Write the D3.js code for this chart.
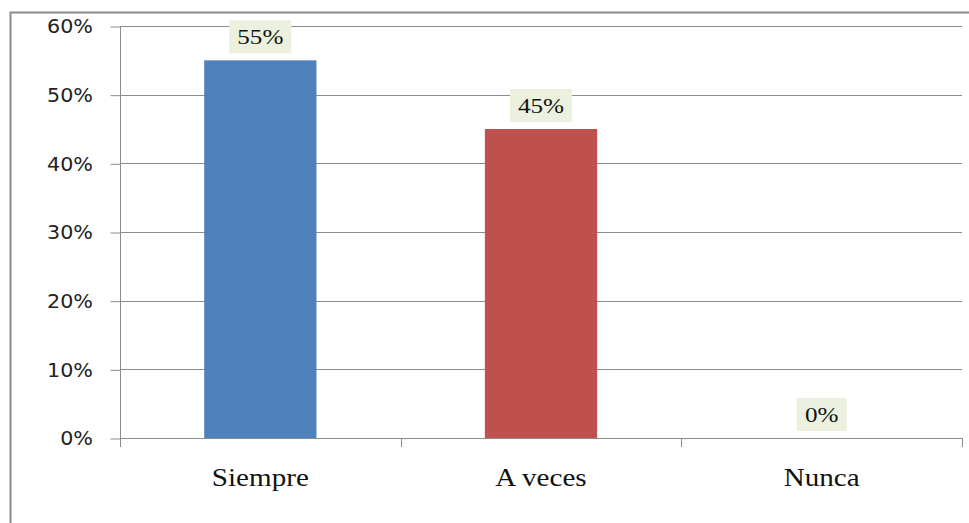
<!DOCTYPE html>
<html><head><meta charset="utf-8">
<script src="https://cdn.jsdelivr.net/npm/d3@7"></script>
<style>body{margin:0;background:#fff}</style>
</head><body>
<svg id="c" width="969" height="523"></svg>
<script>
const categories = ["Siempre", "A veces", "Nunca"];
const values = [0.55, 0.45, 0.0];
const colors = ["#4F81BD", "#C0504D", "#9BBB59"];
const yTicks = [0, 0.1, 0.2, 0.3, 0.4, 0.5, 0.6];

(function () {
const svg = d3.select("#c");
// outer chart border
svg.append("rect").attr("x", 10.5).attr("y", 12.5).attr("width", 1000).attr("height", 600)
  .attr("fill", "#fff").attr("stroke", "#8a8a8a").attr("stroke-width", 2);

const pL = 120, pR = 962, pT = 26, pB = 438;
const x = d3.scaleBand().domain(categories).range([pL, pR]).paddingInner(0.6).paddingOuter(0.3);
const y = d3.scaleLinear().domain([0, 0.6]).range([pB, pT]);

// gridlines
svg.append("g").selectAll("line").data(yTicks.filter(d => d > 0)).join("line")
  .attr("x1", pL).attr("x2", pR)
  .attr("y1", d => Math.round(y(d)) + 0.5).attr("y2", d => Math.round(y(d)) + 0.5)
  .attr("stroke", "#8c8c8c").attr("stroke-width", 1);

// y axis
const yAxis = d3.axisLeft(y).tickValues(yTicks).tickFormat(d3.format(".0%")).tickSize(10).tickPadding(16);
const gy = svg.append("g").attr("transform", `translate(${pL + 0.5},0.5)`).call(yAxis);
gy.select(".domain").attr("stroke", "#8c8c8c").attr("d", `M0,${pB}V${pT}`);
gy.selectAll(".tick line").attr("stroke", "#8c8c8c");
gy.selectAll(".tick text").attr("font-family", "DejaVu Sans").attr("font-size", 19.5)
  .attr("fill", "#222").attr("transform", "scale(1.06,1)");

// bars
svg.append("g").selectAll("rect").data(categories).join("rect")
  .attr("x", d => x(d)).attr("width", x.bandwidth())
  .attr("y", (d, i) => y(values[i])).attr("height", (d, i) => y(0) - y(values[i]))
  .attr("fill", (d, i) => colors[i]);

// x axis
const xStep = x.step();
const xTickPos = d3.range(categories.length + 1).map(i => pL + i * xStep);
svg.append("line").attr("x1", pL).attr("x2", pR).attr("y1", pB + 0.5).attr("y2", pB + 0.5)
  .attr("stroke", "#8c8c8c");
svg.append("g").selectAll("line").data(xTickPos).join("line")
  .attr("x1", d => Math.round(d) + 0.5).attr("x2", d => Math.round(d) + 0.5)
  .attr("y1", pB).attr("y2", pB + 9).attr("stroke", "#8c8c8c");
svg.append("g").selectAll("text").data(categories).join("text")
  .attr("transform", d => `translate(${x(d) + x.bandwidth() / 2},486) scale(1.12,1)`)
  .attr("text-anchor", "middle").attr("font-family", "Liberation Serif").attr("font-size", 26)
  .attr("fill", "#111").text(d => d);

// data labels
const fmt = d3.format(".0%");
const lab = svg.append("g").selectAll("g").data(categories).join("g")
  .attr("transform", (d, i) => `translate(${x(d) + x.bandwidth() / 2},${y(values[i]) - 24})`);
lab.append("rect").attr("x", (d, i) => values[i] > 0 ? -31 : -25).attr("y", -16)
  .attr("width", (d, i) => values[i] > 0 ? 62 : 50).attr("height", 33).attr("fill", "#EBF1DE");
lab.append("text").attr("text-anchor", "middle").attr("transform", "translate(0,8) scale(1.17,1)")
  .attr("font-family", "Liberation Serif").attr("font-size", 21.5).attr("fill", "#111")
  .text((d, i) => fmt(values[i]));
})();
</script>
</body></html>
